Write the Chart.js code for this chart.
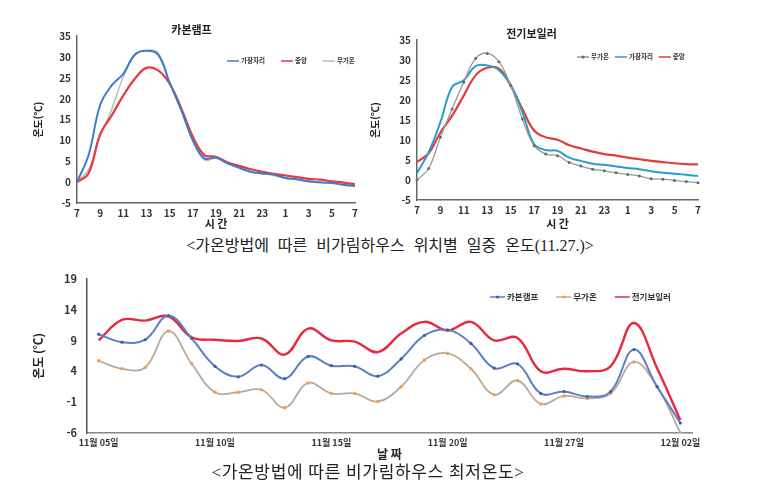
<!DOCTYPE html>
<html lang="ko">
<head>
<meta charset="UTF-8">
<title>가온방법에 따른 비가림하우스 온도</title>
<script src="https://cdn.jsdelivr.net/npm/chart.js@4.4.0/dist/chart.umd.min.js"></script>
<style>
body { margin:0; background:#fff; width:782px; height:492px; position:relative; overflow:hidden; font-family:"Noto Sans CJK KR", sans-serif; }
.box { position:absolute; }
.cap { position:absolute; font-family:"Liberation Serif","Noto Sans CJK KR",serif; font-size:16px; color:#222; white-space:nowrap; transform:translateX(-50%); }
</style>
</head>
<body>
<div class="box" style="left:28px;top:17px;width:337px;height:213px"><canvas id="c1"></canvas></div>
<div class="box" style="left:365px;top:20px;width:340px;height:210px"><canvas id="c2"></canvas></div>
<div class="cap" style="left:390px;top:232px;word-spacing:5px">&lt;가온방법에 따른 비가림하우스 위치별 일중 온도(11.27.)&gt;</div>
<div class="box" style="left:20px;top:262px;width:690px;height:200px"><canvas id="c3"></canvas></div>
<div class="cap" style="left:368px;top:458px;font-size:17px;letter-spacing:0.7px">&lt;가온방법에 따른 비가림하우스 최저온도&gt;</div>
<script>
// 시간 (11.27. 07시 ~ 익일 07시)
var hours = ['7','8','9','10','11','12','13','14','15','16','17','18','19','20','21','22','23','24','1','2','3','4','5','6','7'];

// 카본램프
var carbonEdge   = [0, 6.5, 18.5, 23.2, 26, 30.6, 31.5, 30.6, 23.8, 17.3, 10.1, 5.7, 5.9, 4.5, 3.5, 2.5, 2.1, 1.8, 1.0, 0.7, 0.2, 0, -0.2, -0.6, -0.9];
var carbonCenter = [0, 2.1, 11.5, 16, 20.8, 24.8, 27.4, 26.8, 23.6, 17.7, 10.9, 6.5, 6.1, 4.7, 3.9, 3.1, 2.5, 2.0, 1.6, 1.2, 0.8, 0.6, 0.2, -0.1, -0.5];
var carbonNone   = [0, 3, 11, 17.5, 25.2, 30.4, 31.6, 31, 24, 17.3, 9.7, 5.3, 5.7, 4.4, 3.3, 2.4, 2.0, 1.6, 0.9, 0.6, 0.1, -0.1, -0.3, -0.7, -1.0];

// 전기보일러
var boilerNone   = [0, 2.9, 10.7, 17.8, 24.5, 30.4, 31.7, 29.6, 23.7, 15.3, 8.6, 6.5, 6.1, 4.4, 3.5, 2.7, 2.3, 1.8, 1.4, 1.0, 0.3, 0.2, -0.1, -0.4, -0.7];
var boilerEdge   = [1.7, 7, 14.5, 23.3, 25, 28.5, 28.7, 27.5, 23.7, 17, 9.0, 7.5, 7.3, 5.6, 4.8, 4.1, 3.8, 3.4, 3.0, 2.7, 2.2, 1.8, 1.6, 1.3, 1.0];
var boilerCenter = [4.5, 6.7, 11.9, 16.1, 21.2, 26.2, 28.1, 27.9, 23.7, 17.8, 12.4, 10.7, 10.1, 8.7, 7.9, 7.1, 6.5, 6.1, 5.6, 5.2, 4.8, 4.5, 4.2, 4.0, 3.9];

// 최저온도
var dates = ['11월 05일','11월 06일','11월 07일','11월 08일','11월 09일','11월 10일','11월 11일','11월 12일',
             '11월 13일','11월 14일','11월 15일','11월 16일','11월 17일','11월 18일','11월 19일','11월 20일',
             '11월 21일','11월 22일','11월 23일','11월 26일','11월 27일','11월 28일','11월 29일','11월 30일',
             '12월 01일','12월 02일'];
var dateTicks = ['11월 05일','11월 10일','11월 15일','11월 20일','11월 27일','12월 02일'];
var minCarbon = [10.0, 8.7, 9.1, 13.0, 9.3, 4.8, 3.1, 5.0, 2.8, 6.4, 4.9, 4.8, 3.2, 6.0, 9.8, 10.7, 8.5, 4.5, 5.2, 0.4, 0.7, -0.1, 0.7, 7.5, 1.5, -4.4];
var minNone   = [5.7, 4.4, 4.6, 10.5, 5.2, 0.6, 0.6, 1.0, -1.9, 2.1, 0.4, 0.4, -0.9, 1.5, 5.8, 6.9, 4.4, 0.2, 2.5, -1.3, 0.0, -0.4, 0.4, 5.5, 1.5, -6.0];
var minBoiler = [9.0, 12.3, 12.2, 12.9, 9.5, 9.1, 8.9, 9.3, 6.7, 10.9, 9.0, 8.8, 7.1, 10.1, 12.0, 10.6, 12.0, 9.0, 9.4, 4.0, 4.4, 4.0, 4.8, 11.8, 4.5, -3.9];

var KR = '"Noto Sans CJK KR", sans-serif';

// 차트 안쪽에 범례 그리기
var insideLegend = {
  id: 'insideLegend',
  afterDraw: function(chart, args, opts) {
    var ctx = chart.ctx;
    var x = opts.x;
    ctx.save();
    ctx.font = 'bold ' + opts.size + 'px ' + KR;
    ctx.textBaseline = 'middle';
    chart.data.datasets.forEach(function(ds) {
      ctx.strokeStyle = ds.borderColor;
      ctx.lineWidth = 1.5;
      ctx.beginPath();
      ctx.moveTo(x, opts.y);
      ctx.lineTo(x + opts.line, opts.y);
      ctx.stroke();
      if (ds.pointRadius) {
        ctx.fillStyle = ds.pointBackgroundColor;
        ctx.beginPath();
        ctx.arc(x + opts.line / 2, opts.y, 1.6, 0, Math.PI * 2);
        ctx.fill();
      }
      ctx.fillStyle = '#333';
      ctx.fillText(ds.label, x + opts.line + 2, opts.y);
      x += opts.line + 2 + ctx.measureText(ds.label).width + opts.gap;
    });
    ctx.restore();
  }
};

function line(label, data, color, width, pr, pc) {
  return {
    label: label, data: data, borderColor: color, borderWidth: width,
    pointRadius: pr || 0, pointBackgroundColor: pc || color, pointBorderWidth: 0,
    tension: 0.4, fill: false
  };
}

function hourOptions(title, yw, xh, pad, titleTop, leg) {
  return {
    responsive: true,
    maintainAspectRatio: false,
    animation: false,
    layout: { padding: pad },
    plugins: {
      legend: { display: false },
      tooltip: { enabled: false },
      title: { display: true, text: title, color: '#222', font: { family: KR, size: 11, weight: 'bold' }, padding: { top: titleTop, bottom: 0 } },
      insideLegend: leg
    },
    scales: {
      x: {
        offset: false,
        grid: { display: false, drawTicks: false },
        border: { display: true, color: '#666', width: 1.5 },
        ticks: {
          autoSkip: false, maxRotation: 0, padding: 4, color: '#333',
          font: { family: KR, size: 10, weight: 'bold' },
          callback: function(v, i) { return i % 2 === 0 ? hours[i] : ''; }
        },
        title: { display: true, text: '시 간', color: '#222', font: { family: KR, size: 11, weight: 'bold' }, padding: 0 },
        afterFit: function(s) { s.height = xh; }
      },
      y: {
        min: -5, max: 35,
        grid: { display: false, drawTicks: false },
        border: { display: true, color: '#666', width: 1.5 },
        ticks: { stepSize: 5, padding: 6, color: '#333', font: { family: KR, size: 10, weight: 'bold' } },
        title: { display: true, text: '온도(℃)', color: '#222', font: { family: KR, size: 10, weight: 'bold' }, padding: { top: 4 } },
        afterFit: function(s) { s.width = yw; }
      }
    }
  };
}

new Chart(document.getElementById('c1'), {
  type: 'line',
  data: {
    labels: hours,
    datasets: [
      line('가장자리', carbonEdge, '#3d7cc9', 2),
      line('중앙', carbonCenter, '#e8393f', 2.2),
      line('무가온', carbonNone, '#b8b8b8', 1.4)
    ]
  },
  options: hourOptions('카본램프', 49, 27, { right: 10 }, 6, { x: 199, y: 44, line: 12, gap: 16, size: 6.5 }),
  plugins: [insideLegend]
});

new Chart(document.getElementById('c2'), {
  type: 'line',
  data: {
    labels: hours,
    datasets: [
      line('무가온', boilerNone, '#9a9a9a', 1.3, 1.5, '#5d6d80'),
      line('가장자리', boilerEdge, '#2a9bcc', 2),
      line('중앙', boilerCenter, '#e23c3c', 2.2)
    ]
  },
  options: hourOptions('전기보일러', 52, 30, { right: 7 }, 7, { x: 212, y: 37, line: 12, gap: 6, size: 6.5 }),
  plugins: [insideLegend]
});

new Chart(document.getElementById('c3'), {
  type: 'line',
  data: {
    labels: dates,
    datasets: [
      line('카본램프', minCarbon, '#5b7fc6', 2, 1.6, '#3d5fa8'),
      line('무가온', minNone, '#b5aaa2', 1.8, 1.8, '#f0a050'),
      line('전기보일러', minBoiler, '#e8283c', 2.4)
    ]
  },
  options: {
    responsive: true,
    maintainAspectRatio: false,
    animation: false,
    layout: { padding: { top: 16, right: 18 } },
    plugins: {
      legend: { display: false },
      tooltip: { enabled: false },
      insideLegend: { x: 470, y: 35, line: 15, gap: 18, size: 8.5 }
    },
    scales: {
      x: {
        offset: true,
        grid: { display: false, drawTicks: false },
        border: { display: true, color: '#888', width: 1.5 },
        ticks: {
          autoSkip: false, maxRotation: 0, padding: 4, color: '#333',
          font: { family: KR, size: 9, weight: 'bold' },
          callback: function(v, i) { return dateTicks.indexOf(dates[i]) >= 0 ? dates[i] : ''; }
        },
        title: { display: true, text: '날 짜', color: '#222', font: { family: KR, size: 12, weight: 'bold' }, padding: 0 },
        afterFit: function(s) { s.height = 29; }
      },
      y: {
        min: -6, max: 19,
        grid: { display: false, drawTicks: false },
        border: { display: true, color: '#555', width: 1.5 },
        ticks: { stepSize: 5, padding: 10, color: '#333', font: { family: KR, size: 11, weight: 'bold' } },
        title: { display: true, text: '온도 (℃)', color: '#222', font: { family: KR, size: 12, weight: 'bold' }, padding: { top: 11 } },
        afterFit: function(s) { s.width = 67; }
      }
    }
  },
  plugins: [insideLegend]
});
</script>
</body>
</html>
